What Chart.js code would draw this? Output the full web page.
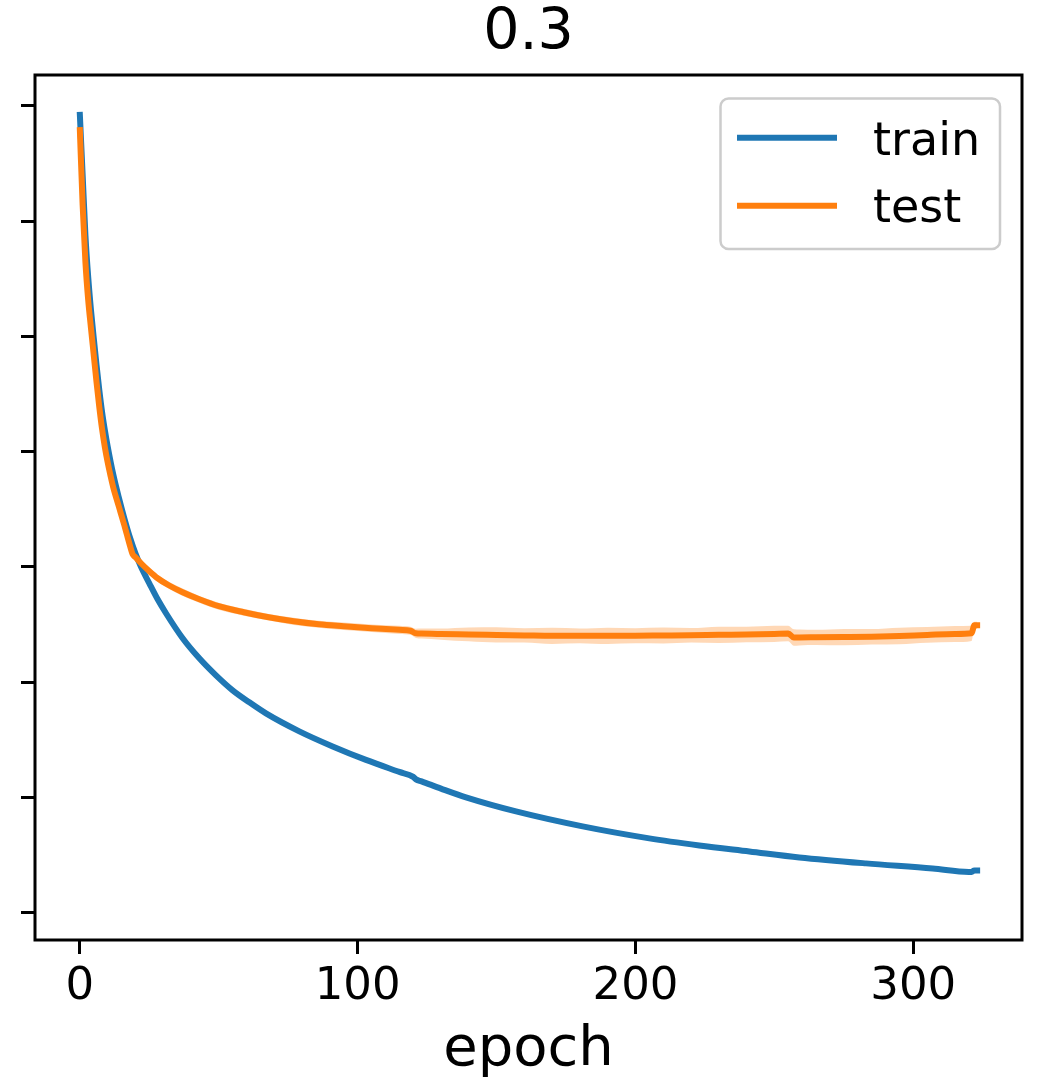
<!DOCTYPE html>
<html>
<head>
<meta charset="utf-8">
<title>0.3 - train / test loss</title>
<script src="https://cdn.jsdelivr.net/npm/chart.js@4.4.0/dist/chart.umd.min.js"></script>
<style>
    html, body { margin: 0; padding: 0; background: #fff; }
    #chartBox { position: relative; width: 1038px; height: 1084px; }
</style>
</head>
<body>
<div id="chartBox"><canvas id="lossChart"></canvas></div>
<script>
// --- Data ---
const chartTitle = '0.3';
const xAxisLabel = 'epoch';
const seriesNames = ['train', 'test'];

const xTickValues = [0, 100, 200, 300];
const yTickValues = [0, 1, 2, 3, 4, 5, 6, 7];   // y ticks are drawn without labels

const trainEpochs = [0, 1, 2, 3, 4, 5, 6, 7, 8, 9, 10, 12, 14, 16, 18, 20, 22, 25, 28, 31,
    37, 43, 49, 55, 61, 67, 79, 91, 103, 115, 120, 121, 123, 130, 139, 157, 181, 205, 223, 241, 259,
    283, 307, 320, 321, 322, 323];
const trainLoss = [6.922, 6.401, 5.880, 5.515, 5.228, 4.985, 4.751, 4.534, 4.343, 4.186, 4.047,
    3.804, 3.604, 3.422, 3.257, 3.117, 3.001, 2.857, 2.718, 2.597,
    2.380, 2.206, 2.058, 1.928, 1.824, 1.728, 1.572, 1.441, 1.324, 1.220,
    1.177, 1.155, 1.138, 1.075, 0.999, 0.877, 0.747, 0.643, 0.582, 0.530, 0.478,
    0.426, 0.382, 0.352, 0.352, 0.365, 0.365];

const testEpochs = [0, 1, 2, 3, 4, 5, 6, 7, 8, 9, 10, 11, 12, 14, 16, 17, 18, 19, 20,
    22, 25, 28, 32, 37, 43, 50, 59, 68, 77, 86, 95, 105, 115, 119, 121, 123, 130, 140, 150, 160,
    170, 180, 190, 200, 210, 220, 230, 240, 250, 255, 257, 259, 265, 275, 285, 295, 305, 315, 321, 322, 323];
const testLoss = [6.790, 6.140, 5.645, 5.315, 5.072, 4.838, 4.603, 4.386, 4.195, 4.039, 3.908, 3.795, 3.691,
    3.526, 3.361, 3.274, 3.187, 3.109, 3.083,
    3.031, 2.962, 2.901, 2.840, 2.779, 2.718, 2.658, 2.606, 2.562, 2.527,
    2.501, 2.484, 2.467, 2.453, 2.445, 2.423, 2.421, 2.416, 2.413, 2.409, 2.405,
    2.401, 2.401, 2.401, 2.402, 2.404, 2.406, 2.410, 2.413, 2.418, 2.421,
    2.386, 2.387, 2.388, 2.390, 2.393, 2.400, 2.409, 2.417, 2.423, 2.493, 2.493];
// spread of the test loss across runs (half width of the shaded band)
const testSpread = [0.013, 0.013, 0.013, 0.013, 0.013, 0.013, 0.013, 0.013, 0.013, 0.013, 0.013, 0.013, 0.013,
    0.013, 0.013, 0.013, 0.013, 0.013, 0.022,
    0.026, 0.029, 0.031, 0.030, 0.032, 0.029, 0.031, 0.030, 0.028, 0.031,
    0.030, 0.032, 0.033, 0.035, 0.035, 0.040, 0.043, 0.048, 0.060, 0.066, 0.062,
    0.070, 0.064, 0.071, 0.066, 0.069, 0.063, 0.071, 0.067, 0.070, 0.068,
    0.072, 0.069, 0.066, 0.071, 0.067, 0.072, 0.068, 0.070, 0.066, 0.030, 0.030];

const xRange = [-16.15, 339.15];
const yRange = [-0.239, 7.269];

document.addEventListener('DOMContentLoaded', function() {
    const FONT = "'DejaVu Sans', 'Liberation Sans', sans-serif";
    const BLUE = '#1f77b4';
    const ORANGE = '#ff7f0e';

    const toPoints = (xs, ys) => xs.map((x, i) => ({ x: x, y: ys[i] }));

    // --- Plugins: axes frame and boxed legend ---
    const framePlugin = {
        id: 'frame',
        afterDatasetsDraw(chart) {
            const { ctx, chartArea: a } = chart;
            ctx.save();
            ctx.strokeStyle = '#000';
            ctx.lineWidth = 3;
            ctx.strokeRect(a.left, a.top, a.right - a.left, a.bottom - a.top);
            ctx.restore();
        }
    };

    const legendBoxPlugin = {
        id: 'legendBox',
        afterDraw(chart) {
            const ctx = chart.ctx;
            const box = { x: 720.5, y: 98.5, w: 279.5, h: 150.5, r: 8 };
            ctx.save();
            ctx.beginPath();
            ctx.roundRect(box.x, box.y, box.w, box.h, box.r);
            ctx.fillStyle = 'rgba(255,255,255,0.8)';
            ctx.fill();
            ctx.strokeStyle = '#cccccc';
            ctx.lineWidth = 2.5;
            ctx.stroke();

            const rows = [137.7, 205.7];
            const baselines = [155, 222];
            ctx.font = '46px ' + FONT;
            ctx.textBaseline = 'alphabetic';
            ctx.textAlign = 'left';
            seriesNames.forEach((name, i) => {
                ctx.beginPath();
                ctx.moveTo(737, rows[i]);
                ctx.lineTo(837, rows[i]);
                ctx.strokeStyle = chart.data.datasets[i].borderColor;
                ctx.lineWidth = 6;
                ctx.stroke();
                ctx.fillStyle = '#000';
                ctx.fillText(name, 873, baselines[i]);
            });
            ctx.restore();
        }
    };

    // --- Chart ---
    const lineStyle = {
        borderWidth: 6,
        pointRadius: 0,
        cubicInterpolationMode: 'monotone',
        borderCapStyle: 'square',
        borderJoinStyle: 'round',
        fill: false
    };

    const datasets = [
        Object.assign({ label: seriesNames[0], data: toPoints(trainEpochs, trainLoss), borderColor: BLUE, order: 1 }, lineStyle),
        Object.assign({ label: seriesNames[1], data: toPoints(testEpochs, testLoss), borderColor: ORANGE, order: 0 }, lineStyle),
        {
            label: 'test upper',
            data: toPoints(testEpochs, testLoss.map((v, i) => v + testSpread[i])),
            borderWidth: 0, pointRadius: 0, cubicInterpolationMode: 'monotone',
            backgroundColor: 'rgba(255,127,14,0.3)',
            fill: '+1', order: 2
        },
        {
            label: 'test lower',
            data: toPoints(testEpochs, testLoss.map((v, i) => v - testSpread[i])),
            borderWidth: 0, pointRadius: 0, cubicInterpolationMode: 'monotone',
            fill: false, order: 2
        }
    ];

    const tickGrid = {
        drawOnChartArea: false,
        drawTicks: true,
        tickLength: 14,
        color: '#000',
        lineWidth: 3
    };

    new Chart(document.getElementById('lossChart'), {
        type: 'line',
        data: { datasets: datasets },
        options: {
            responsive: true,
            maintainAspectRatio: false,
            devicePixelRatio: 1,
            animation: false,
            events: [],
            layout: { padding: { left: 35, right: 16, top: 0, bottom: 0 } },
            scales: {
                x: {
                    type: 'linear',
                    min: xRange[0],
                    max: xRange[1],
                    afterBuildTicks: (scale) => { scale.ticks = xTickValues.map(v => ({ value: v })); },
                    afterFit: (scale) => { scale.height = 144; },
                    ticks: {
                        color: '#000',
                        padding: 6,
                        maxRotation: 0,
                        font: { family: FONT, size: 45 }
                    },
                    grid: tickGrid,
                    border: { display: false },
                    title: {
                        display: true,
                        text: xAxisLabel,
                        color: '#000',
                        padding: { top: 0, bottom: 0 },
                        font: { family: FONT, size: 56 }
                    }
                },
                y: {
                    type: 'linear',
                    min: yRange[0],
                    max: yRange[1],
                    afterBuildTicks: (scale) => { scale.ticks = yTickValues.map(v => ({ value: v })); },
                    afterFit: (scale) => { scale.width = 0; },
                    ticks: { display: false },
                    grid: tickGrid,
                    border: { display: false }
                }
            },
            plugins: {
                legend: { display: false },
                tooltip: { enabled: false },
                title: {
                    display: true,
                    text: chartTitle,
                    color: '#000',
                    padding: { top: 0.4, bottom: 6.2 },
                    font: { family: FONT, size: 57, weight: 'normal' }
                }
            }
        },
        plugins: [framePlugin, legendBoxPlugin]
    });
});
</script>
</body>
</html>
